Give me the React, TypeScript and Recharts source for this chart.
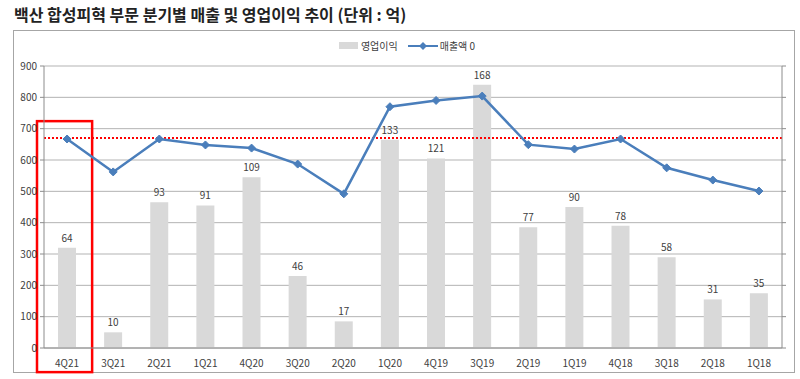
import React from "react";
import {
  ComposedChart,
  Bar,
  Line,
  XAxis,
  YAxis,
  CartesianGrid,
  LabelList,
  Legend,
  ReferenceLine,
  ReferenceArea,
} from "recharts";

// quarters run newest -> oldest, as in the original sheet
const quarters = ["4Q21", "3Q21", "2Q21", "1Q21", "4Q20", "3Q20", "2Q20", "1Q20", "4Q19", "3Q19", "2Q19", "1Q19", "4Q18", "3Q18", "2Q18", "1Q18"];
const operatingProfit = [64, 10, 93, 91, 109, 46, 17, 133, 121, 168, 77, 90, 78, 58, 31, 35];
const sales = [667, 562, 667, 648, 638, 587, 492, 770, 790, 804, 649, 635, 667, 575, 536, 501];
const salesTicks = [0, 100, 200, 300, 400, 500, 600, 700, 800, 900];
const profitTicks = [0, 20, 40, 60, 80, 100, 120, 140, 160, 180];
const guideLevel = 670;
const highlighted = "4Q21";

const data = quarters.map((q, i) => ({ q, profit: operatingProfit[i], sales: sales[i] }));

const FONT = "'Noto Sans CJK KR', 'Noto Sans', sans-serif";
const TEXT = "#404040";
const BLUE = "#4a7ebb";
const BAR = "#d9d9d9";
const GRID = "#b3b3b3";

const Diamond = (props: any) => {
  const { cx, cy, index } = props;
  if (cx == null || cy == null) return null;
  const r = 4;
  return (
    <path
      key={`d-${index}`}
      d={`M${cx},${cy - r}L${cx + r},${cy}L${cx},${cy + r}L${cx - r},${cy}Z`}
      fill={BLUE}
      stroke={BLUE}
    />
  );
};

// highlight box is a bit wider than the band, reaching over the y axis
const HighlightBox = (props: any) => {
  const { x, y, width, height } = props;
  if (x == null) return null;
  return <rect x={x - 7} y={y} width={width + 9} height={height} fill="none" stroke="#ff0000" strokeWidth={2.5} />;
};

const renderLegend = () => (
  <div style={{ display: "flex", justifyContent: "center", alignItems: "center", fontSize: 10, color: TEXT, fontFamily: FONT, paddingLeft: 26 }}>
    <span style={{ display: "inline-block", width: 19, height: 7, background: BAR, marginRight: 3 }} />
    <span style={{ marginRight: 10 }}>영업이익</span>
    <svg width={30} height={10} style={{ marginRight: 2 }}>
      <line x1={0} y1={5} x2={30} y2={5} stroke={BLUE} strokeWidth={2} />
      <path d="M15,1L19,5L15,9L11,5Z" fill={BLUE} />
    </svg>
    <span>매출액 0</span>
  </div>
);

export default function App() {
  return (
    <div style={{ position: "absolute", left: 0, top: 0, width: 800, height: 379, background: "#fff", fontFamily: FONT }}>
      <div style={{ position: "absolute", left: 14, top: 2, fontSize: 16, fontWeight: 700, color: "#222" }}>
        백산 합성피혁 부문 분기별 매출 및 영업이익 추이 (단위 : 억)
      </div>
      <div style={{ position: "absolute", left: 13, top: 30, width: 780, height: 341, border: "1px solid #a6a6a6" }} />
      <div style={{ position: "absolute", left: 0, top: 0 }}>
        <ComposedChart width={800} height={379} data={data} margin={{ top: 51, right: 12, bottom: 0, left: 0 }}>
          <CartesianGrid yAxisId="left" vertical={false} stroke={GRID} />
          <XAxis
            dataKey="q"
            height={31}
            tickLine={false}
            axisLine={{ stroke: "#8c8c8c" }}
            tick={{ fontSize: 10, fill: TEXT, fontFamily: FONT }}
            tickMargin={6}
          />
          <YAxis
            yAxisId="left"
            width={44}
            domain={[0, 900]}
            ticks={salesTicks}
            tickSize={4}
            tickMargin={3}
            axisLine={{ stroke: "#8c8c8c" }}
            tickLine={{ stroke: "#8c8c8c" }}
            tick={{ fontSize: 10, fill: TEXT, fontFamily: FONT }}
          />
          <YAxis
            yAxisId="right"
            orientation="right"
            width={6}
            domain={[0, 180]}
            ticks={profitTicks}
            tickSize={4}
            tickFormatter={() => ""}
            axisLine={{ stroke: "#8c8c8c" }}
            tickLine={{ stroke: "#8c8c8c" }}
          />
          <Legend verticalAlign="top" height={0} wrapperStyle={{ top: 38 }} content={renderLegend} />
          <Bar yAxisId="right" dataKey="profit" fill={BAR} barSize={18} isAnimationActive={false}>
            <LabelList dataKey="profit" position="top" offset={6} style={{ fontSize: 10, fill: TEXT, fontFamily: FONT }} />
          </Bar>
          <ReferenceLine yAxisId="left" y={guideLevel} stroke="#ff0000" strokeWidth={2} strokeDasharray="2 2" />
          <Line
            yAxisId="left"
            dataKey="sales"
            stroke={BLUE}
            strokeWidth={2.5}
            dot={Diamond}
            activeDot={false}
            isAnimationActive={false}
          />
          <ReferenceArea
            yAxisId="left"
            x1={highlighted}
            x2={highlighted}
            y1={-77}
            y2={724}
            ifOverflow="visible"
            shape={HighlightBox}
          />
        </ComposedChart>
      </div>
    </div>
  );
}
